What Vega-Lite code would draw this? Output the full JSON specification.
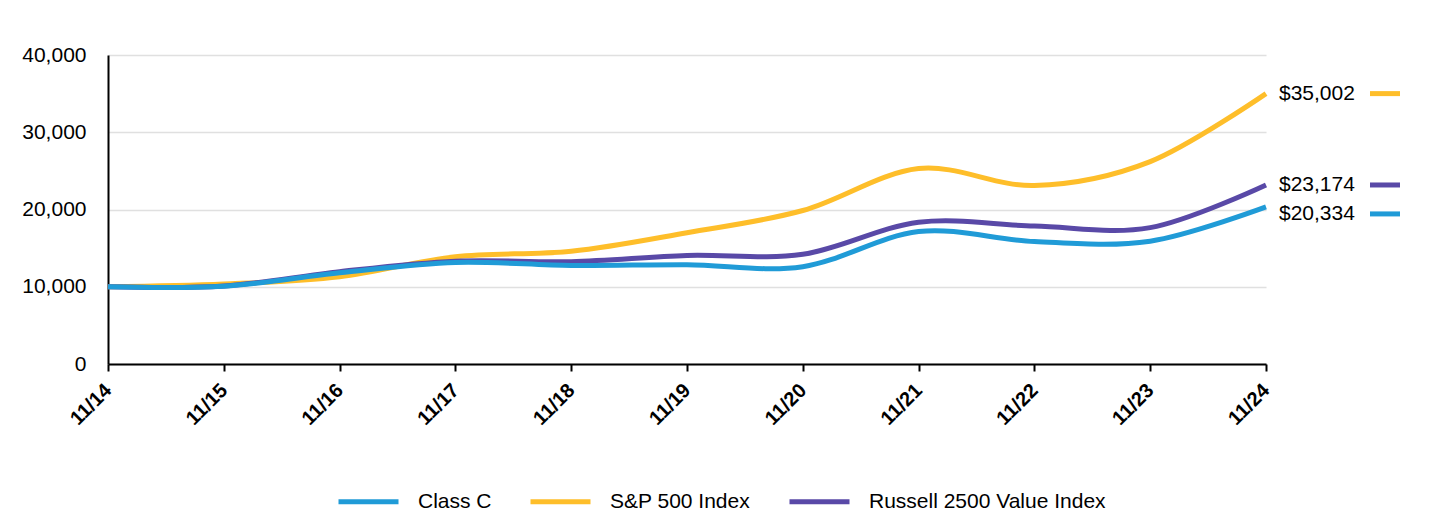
{
  "$schema": "https://vega.github.io/schema/vega-lite/v6.json",
  "width": 1158,
  "height": 309,
  "autosize": {"type": "none"},
  "padding": {"left": 108, "top": 55, "right": 174, "bottom": 152},
  "background": "white",
  "config": {"font": "Liberation Sans", "view": {"stroke": null}},
  "data": {
    "values": [
      {"period": "11/14", "series": "S&P 500 Index", "value": 10000},
      {"period": "11/15", "series": "S&P 500 Index", "value": 10350},
      {"period": "11/16", "series": "S&P 500 Index", "value": 11300},
      {"period": "11/17", "series": "S&P 500 Index", "value": 13900},
      {"period": "11/18", "series": "S&P 500 Index", "value": 14600},
      {"period": "11/19", "series": "S&P 500 Index", "value": 17000},
      {"period": "11/20", "series": "S&P 500 Index", "value": 19870},
      {"period": "11/21", "series": "S&P 500 Index", "value": 25300},
      {"period": "11/22", "series": "S&P 500 Index", "value": 23100},
      {"period": "11/23", "series": "S&P 500 Index", "value": 26200},
      {"period": "11/24", "series": "S&P 500 Index", "value": 35002},
      {"period": "11/14", "series": "Russell 2500 Value Index", "value": 10000},
      {"period": "11/15", "series": "Russell 2500 Value Index", "value": 10100},
      {"period": "11/16", "series": "Russell 2500 Value Index", "value": 11950},
      {"period": "11/17", "series": "Russell 2500 Value Index", "value": 13300},
      {"period": "11/18", "series": "Russell 2500 Value Index", "value": 13250},
      {"period": "11/19", "series": "Russell 2500 Value Index", "value": 14050},
      {"period": "11/20", "series": "Russell 2500 Value Index", "value": 14200},
      {"period": "11/21", "series": "Russell 2500 Value Index", "value": 18350},
      {"period": "11/22", "series": "Russell 2500 Value Index", "value": 17850},
      {"period": "11/23", "series": "Russell 2500 Value Index", "value": 17650},
      {"period": "11/24", "series": "Russell 2500 Value Index", "value": 23174},
      {"period": "11/14", "series": "Class C", "value": 10000},
      {"period": "11/15", "series": "Class C", "value": 10080},
      {"period": "11/16", "series": "Class C", "value": 11800},
      {"period": "11/17", "series": "Class C", "value": 13150},
      {"period": "11/18", "series": "Class C", "value": 12750},
      {"period": "11/19", "series": "Class C", "value": 12860},
      {"period": "11/20", "series": "Class C", "value": 12600},
      {"period": "11/21", "series": "Class C", "value": 17150},
      {"period": "11/22", "series": "Class C", "value": 15850},
      {"period": "11/23", "series": "Class C", "value": 15900},
      {"period": "11/24", "series": "Class C", "value": 20334}
    ]
  },
  "encoding": {
    "x": {
      "field": "period",
      "type": "ordinal",
      "sort": null,
      "scale": {"type": "point", "padding": 0},
      "axis": {
        "title": null,
        "labelAngle": -45,
        "labelAlign": "right",
        "labelBaseline": "middle",
        "labelFontSize": 20,
        "labelFontWeight": "bold",
        "labelColor": "black",
        "labelPadding": 16,
        "domainColor": "black",
        "domainWidth": 2,
        "tickColor": "black",
        "tickWidth": 2,
        "tickSize": 7,
        "grid": false
      }
    },
    "y": {
      "field": "value",
      "type": "quantitative",
      "scale": {"domain": [0, 40000], "nice": false},
      "axis": {
        "title": null,
        "values": [0, 10000, 20000, 30000, 40000],
        "format": ",.0f",
        "labelFontSize": 21,
        "labelColor": "black",
        "labelPadding": 22,
        "ticks": false,
        "domainColor": "black",
        "domainWidth": 2,
        "grid": true,
        "gridColor": "#e0e0e0",
        "gridWidth": 1.5
      }
    },
    "color": {
      "field": "series",
      "type": "nominal",
      "scale": {
        "domain": ["Class C", "S&P 500 Index", "Russell 2500 Value Index"],
        "range": ["#209BD7", "#FEBE2A", "#5949A7"]
      },
      "legend": {
        "orient": "none",
        "legendX": 228,
        "legendY": 414,
        "direction": "horizontal",
        "title": null,
        "symbolType": "stroke",
        "symbolSize": 3600,
        "symbolStrokeWidth": 5,
        "labelFontSize": 21,
        "labelColor": "black",
        "labelOffset": 17,
        "columnPadding": 28,
        "labelLimit": 0
      }
    }
  },
  "layer": [
    {
      "mark": {"type": "line", "interpolate": "cardinal", "strokeWidth": 5}
    },
    {
      "transform": [{"filter": "datum.period == '11/24' && datum.series != 'Class C'"}],
      "mark": {"type": "text", "align": "left", "baseline": "middle", "dx": 13, "fontSize": 21, "color": "black"},
      "encoding": {"text": {"field": "value", "format": "$,.0f"}, "color": {"value": "black"}}
    },
    {
      "transform": [{"filter": "datum.period == '11/24' && datum.series == 'Class C'"}],
      "mark": {"type": "text", "align": "left", "baseline": "middle", "dx": 13, "dy": 7, "fontSize": 21, "color": "black"},
      "encoding": {"text": {"field": "value", "format": "$,.0f"}, "color": {"value": "black"}}
    },
    {
      "transform": [{"filter": "datum.period == '11/24' && datum.series != 'Class C'"}],
      "mark": {"type": "rule", "xOffset": 104, "x2Offset": 134, "strokeWidth": 5},
      "encoding": {"x2": {"field": "period"}}
    },
    {
      "transform": [{"filter": "datum.period == '11/24' && datum.series == 'Class C'"}],
      "mark": {"type": "rule", "xOffset": 104, "x2Offset": 134, "yOffset": 7, "strokeWidth": 5},
      "encoding": {"x2": {"field": "period"}}
    }
  ]
}
